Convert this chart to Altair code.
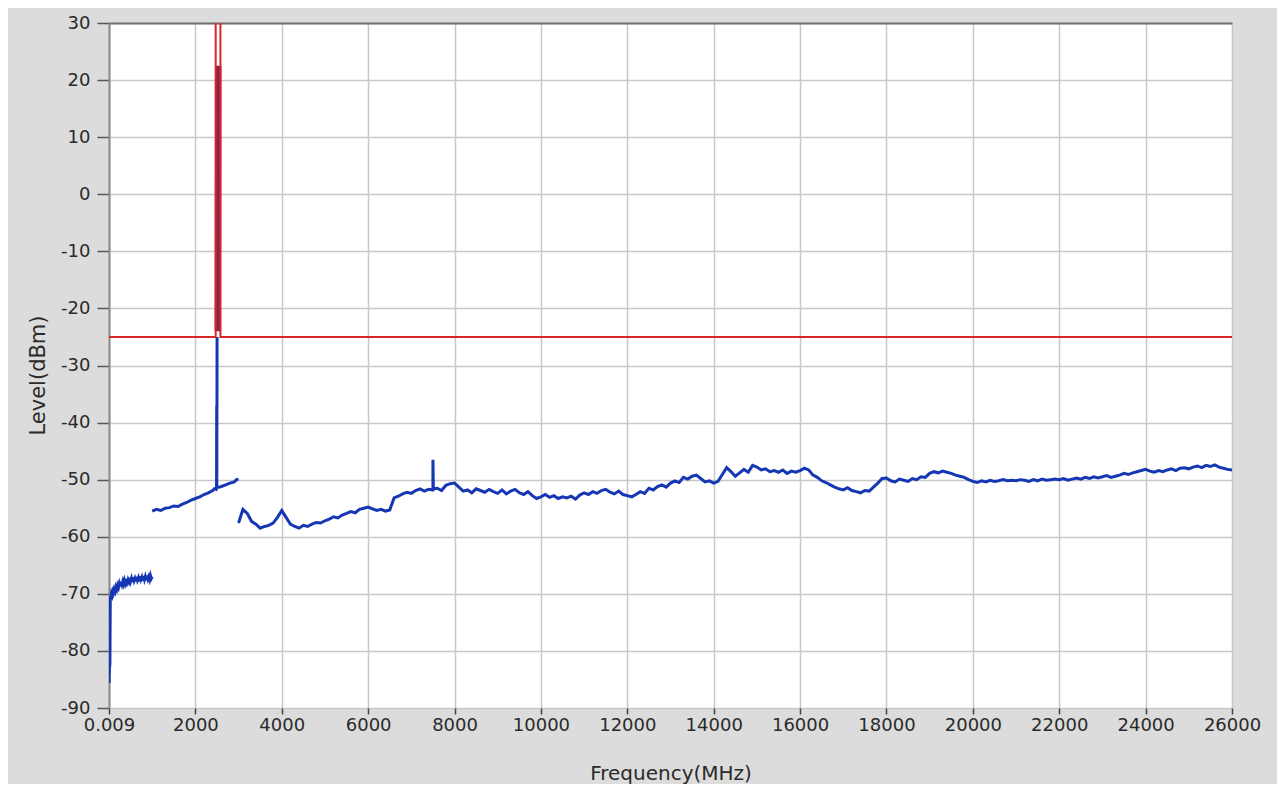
import altair as alt
import pandas as pd

# ---------------- data ----------------
x_ticks = [0.009, 2000, 4000, 6000, 8000, 10000, 12000, 14000, 16000, 18000,
           20000, 22000, 24000, 26000]
y_ticks = [-90, -80, -70, -60, -50, -40, -30, -20, -10, 0, 10, 20, 30]

# segment A: 0.009 .. 1000 MHz
segA_f = [0.009, 3, 6, 9, 12, 15, 18, 21, 24, 27, 30,
          40, 55, 70, 85, 100, 120, 140, 160, 180, 200, 220, 240, 260, 280,
          300, 320, 340, 360, 380, 400, 420, 440, 460, 480, 500, 520, 540, 560,
          580, 600, 620, 640, 660, 680, 700, 720, 740, 760, 780, 800, 820, 840,
          860, 880, 900, 920, 940, 960, 980, 1000]
segA_L = [-72, -85.6, -80, -84, -78.5, -83, -79, -82.5, -78, -74, -71,
          -70.6, -70.0, -70.3, -69.6, -69.9, -69.2, -69.6, -68.8, -69.2, -68.5,
          -68.9, -68.2, -68.7, -67.9, -68.4, -67.8, -68.3, -67.6, -68.1, -67.4,
          -68.0, -67.5, -67.9, -67.2, -67.8, -67.3, -67.9, -67.1, -67.7, -67.3,
          -67.8, -67.0, -67.6, -67.2, -67.8, -66.9, -67.5, -67.1, -67.7, -66.9,
          -67.5, -67.0, -67.6, -66.8, -67.4, -67.0, -67.5, -66.8, -67.3, -67.0]

# segment B: 1000 .. 2500 MHz (rising toward the carrier)
segB_f = [1000, 1100, 1200, 1300, 1400, 1500, 1600, 1700, 1800, 1900, 2000,
          2100, 2200, 2300, 2400, 2440, 2480, 2490, 2494, 2496, 2498, 2500, 2502]
segB_L = [-55.5, -55.2, -55.4, -55.0, -54.9, -54.6, -54.7, -54.3, -54.0, -53.6,
          -53.3, -53.0, -52.6, -52.3, -51.9, -51.6, -51.7, -51.3, -37, -51.2,
          -37.5, -37, -25]

# in-band carrier (2.4 GHz band)
band_f = [2480, 2488, 2496, 2504, 2512, 2520, 2528, 2536, 2544, 2552, 2560, 2568]
band_L = [-24, 22.5, -24, 22.5, -24, 22.5, -24, 22.5, -24, 22.5, -24, 22.5]

# segment B2: 2500 .. 3000 MHz
segB2_f = [2505, 2600, 2700, 2800, 2900, 2950, 3000]
segB2_L = [-51.4, -51.2, -50.9, -50.6, -50.4, -50.0, -49.9]

# segment C: 3000 .. 26000 MHz, every 100 MHz
segC_L = [
    -57.6, -55.2, -55.9, -57.3, -57.8, -58.5, -58.2, -58.0, -57.6, -56.6,
    -55.4, -56.6, -57.8, -58.2, -58.5, -58.0, -58.2, -57.8, -57.5, -57.6,
    -57.2, -56.9, -56.5, -56.7, -56.2, -55.9, -55.6, -55.8, -55.2, -55.0,
    -54.8, -55.1, -55.4, -55.2, -55.5, -55.3, -53.2, -52.9, -52.5, -52.2,
    -52.4, -51.9, -51.6, -52.0, -51.7, -51.8, -51.5, -51.9, -51.0, -50.7,
    -50.6, -51.3, -52.0, -51.8, -52.3, -51.6, -51.9, -52.2, -51.7, -52.1,
    -52.4, -51.8, -52.5, -52.0, -51.7, -52.3, -52.6, -52.1, -52.8, -53.3,
    -53.0, -52.6, -53.1, -52.8, -53.3, -53.0, -53.2, -52.9, -53.4, -52.7,
    -52.3, -52.6, -52.1, -52.4, -51.9, -51.7, -52.2, -52.5, -52.0, -52.6,
    -52.8, -53.0, -52.6, -52.1, -52.4, -51.5, -51.8, -51.2, -50.9, -51.3,
    -50.6, -50.2, -50.5, -49.6, -49.9, -49.4, -49.2, -49.8, -50.4, -50.2,
    -50.6, -50.3, -49.1, -47.9, -48.6, -49.4, -48.8, -48.2, -48.7, -47.5,
    -47.8, -48.3, -48.1, -48.6, -48.4, -48.7, -48.3, -48.9, -48.5, -48.7,
    -48.4, -48.0, -48.3, -49.2, -49.6, -50.2, -50.5, -50.9, -51.3, -51.6,
    -51.8, -51.4, -51.9, -52.1, -52.3, -51.9, -52.0, -51.3, -50.6, -49.8,
    -49.7, -50.2, -50.4, -49.9, -50.1, -50.3, -49.8, -50.0, -49.5, -49.6,
    -48.9, -48.6, -48.8, -48.5, -48.7, -48.9, -49.2, -49.4, -49.6, -50.0,
    -50.3, -50.5, -50.2, -50.4, -50.1, -50.3, -50.2, -50.0, -50.2, -50.1,
    -50.2, -50.0, -50.1, -50.3, -50.0, -50.2, -49.9, -50.1, -50.0, -49.9,
    -50.0, -49.8, -50.1, -49.9, -49.7, -49.9, -49.6, -49.8, -49.5, -49.7,
    -49.5, -49.3, -49.6, -49.4, -49.2, -48.9, -49.1, -48.8, -48.6, -48.4,
    -48.2, -48.5, -48.7, -48.4, -48.6, -48.3, -48.1, -48.4, -48.0, -47.9,
    -48.1, -47.8, -47.6, -47.9, -47.5, -47.7, -47.4, -47.8, -48.0, -48.2,
    -48.3,
]
segC_f = [3000 + 100 * k for k in range(len(segC_L))]

# narrow spur at 7.5 GHz
spur_f = [7490, 7500, 7510]
spur_L = [-51.8, -46.5, -51.6]

# limit line (-25 dBm, opened in the transmit band)
limit_f = [0.009, 2470, 2470, 2580, 2580, 26000]
limit_L = [-25, -25, 45, 45, -25, -25]

# ---------------- build table ----------------
rows = []
def add(fs, ls, series, seg):
    for f, l in zip(fs, ls):
        rows.append({"f": f, "L": l, "series": series, "seg": seg})

add(segA_f, segA_L, "trace", "A")
add(segB_f, segB_L, "trace", "B")
add(band_f, band_L, "band", "band")
add(segB2_f, segB2_L, "trace", "B2")
merged = sorted(list(zip(segC_f, segC_L)) + list(zip(spur_f, spur_L)))
add([m[0] for m in merged], [m[1] for m in merged], "trace", "C")
add(limit_f, limit_L, "limit", "lim")
df = pd.DataFrame(rows)
df["i"] = range(len(df))

FONT = "DejaVu Sans"
xscale = alt.Scale(domain=[0.009, 26000], nice=False, zero=False)
yscale = alt.Scale(domain=[-90, 30], nice=False, zero=False)
cscale = alt.Scale(domain=["trace", "band", "limit"],
                   range=["#1537b4", "#8a1f55", "#d42828"])

xaxis = alt.Axis(values=x_ticks, labelExpr="datum.value < 1 ? '0.009' : '' + datum.value",
                 title="Frequency(MHz)", domain=False, tickSize=6, tickColor="#444",
                 tickWidth=1.5, labelPadding=2, labelFont=FONT, labelFontSize=18,
                 labelColor="#2a2a2a", titleFont=FONT, titleFontSize=20,
                 titleFontWeight="normal", titleColor="#2a2a2a", titlePadding=29,
                 gridColor="#c8c8c8", gridWidth=1.5, labelFlush=False)
yaxis = alt.Axis(values=y_ticks, labelExpr="'' + datum.value", title="Level(dBm)",
                 domainColor="#8a8a8a", domainWidth=2, tickSize=12, tickColor="#555",
                 tickWidth=1.5, labelPadding=7, labelFont=FONT, labelFontSize=18,
                 labelColor="#2a2a2a", titleFont=FONT, titleFontSize=21,
                 titleFontWeight="normal", titleColor="#2a2a2a", titlePadding=12,
                 titleY=352, gridColor="#c8c8c8", gridWidth=1.5)

trace = alt.Chart(df[df.series != "limit"]).mark_line(strokeWidth=3, clip=True).encode(
    x=alt.X("f:Q", scale=xscale, axis=xaxis),
    y=alt.Y("L:Q", scale=yscale, axis=yaxis),
    color=alt.Color("series:N", scale=cscale, legend=None),
    detail="seg:N",
    order="i:Q",
)

limit = alt.Chart(df[df.series == "limit"]).mark_line(strokeWidth=2, clip=True).encode(
    x=alt.X("f:Q", scale=xscale,
            axis=alt.Axis(orient="top", labels=False, ticks=False, grid=False,
                          domainColor="#707070", domainWidth=2, title=None)),
    y=alt.Y("L:Q", scale=yscale, axis=yaxis),
    color=alt.Color("series:N", scale=cscale, legend=None),
    detail="seg:N",
    order="i:Q",
)

chart = alt.layer(trace, limit).resolve_axis(x="independent", y="shared").properties(
    width=1123, height=685,
    autosize=alt.AutoSizeParams(type="none"),
    padding={"left": 101, "top": 15, "right": 45, "bottom": 76},
    background="#dcdcdc",
).configure_view(stroke="transparent", fill="white")

chart.save("out.html", embed_options={"renderer": "svg", "actions": False})
